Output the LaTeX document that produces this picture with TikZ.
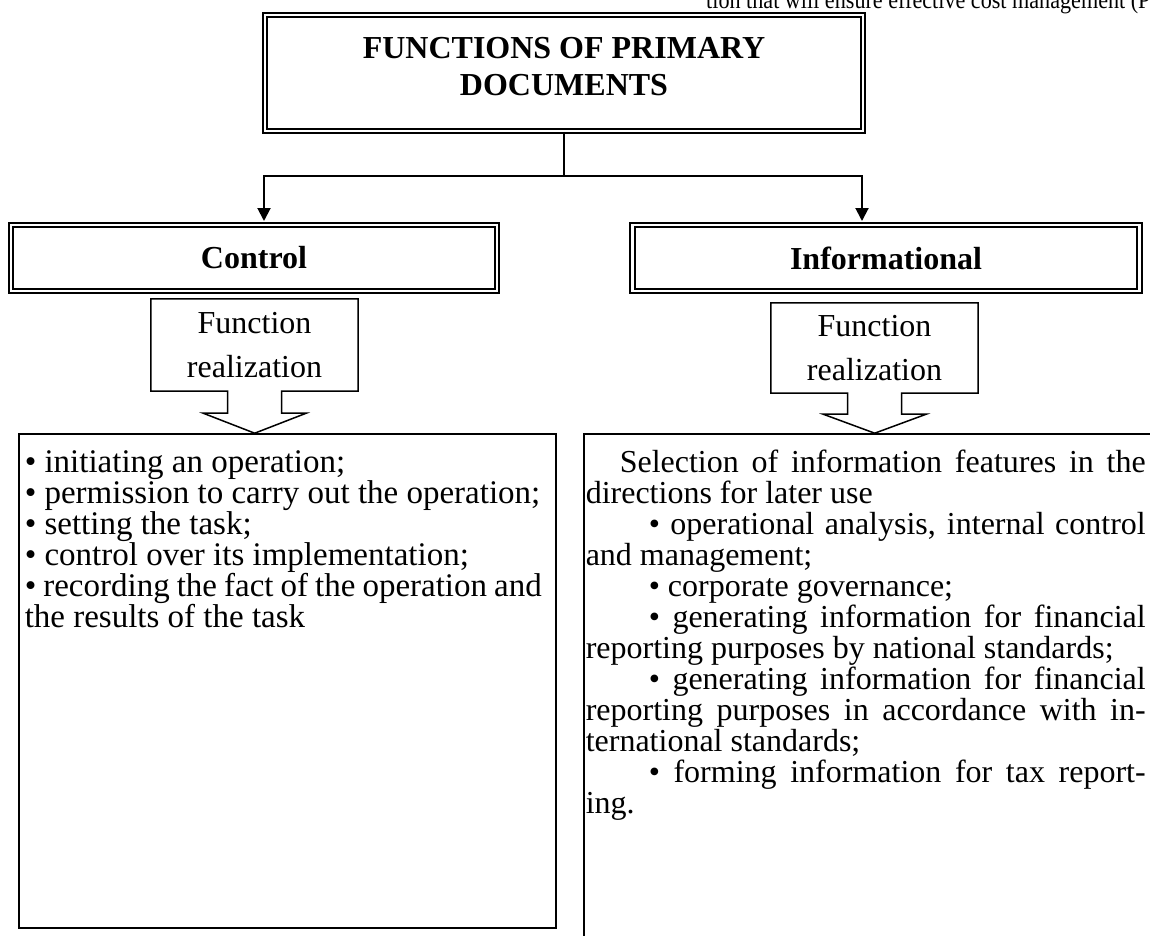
\documentclass[tikz,border=0pt]{standalone}
\usepackage{fontspec}
\setmainfont{Liberation Serif}
\usetikzlibrary{arrows.meta,positioning,calc}

\begin{document}
\begin{tikzpicture}
[
	x=1pt, y=-1pt,
	dbox/.style={rectangle,draw=black,double,line width=2pt,double distance=2.5pt,inner sep=0pt,align=center,font=\bfseries\fontsize{32}{37}\selectfont},
	realtext/.style={rectangle,inner sep=0pt,minimum width=207pt,align=center,font=\fontsize{32}{44}\selectfont},
	callout/.style={draw=black,line width=1.5pt,line join=miter},
	listbox/.style={rectangle,draw=black,line width=1.5pt,inner ysep=8pt,anchor=north west,font=\fontsize{32}{31}\selectfont},
	link/.style={line width=2pt},
	arr/.style={link,-{Triangle[width=13pt,length=13pt]},shorten >=3pt},
]
	\useasboundingbox (0,0) rectangle (1150,936);
	\clip (0,0) rectangle (1150,936);

	% cut line of the page above
	\node[anchor=base west,inner sep=0pt,font=\fontsize{25}{30}\selectfont] (prevline) at (706,9) {\scalebox{0.886}[1]{tion that will ensure effective cost management (P}};

	% title
	\node[dbox,minimum width=598pt,minimum height=116pt] (title) at (564,73) {};
	\node[inner sep=0pt,align=center,font=\bfseries\fontsize{32}{37}\selectfont] (titletext) at (564,67) {FUNCTIONS OF PRIMARY\\DOCUMENTS};

	% two functions
	\node[dbox,minimum width=486pt,minimum height=66pt] (ctrl) at (254,258) {Control};
	\node[dbox,minimum width=507pt,minimum height=66pt] (info) at (886,258) {Informational};

	\coordinate (fork) at (564,176);
	\draw[link] (title.south) -- (fork);
	\draw[arr] (fork) -| ([xshift=10pt]ctrl.north);
	\draw[arr] (fork) -| ([xshift=-24pt]info.north);

	% function realization callouts
	\node[realtext,minimum height=92pt] (realctrl) at (254.5,345) {Function\\realization};
	\draw[callout] (realctrl.north west) -- (realctrl.north east) -- (realctrl.south east)
		-- ++(-76.5,0) -- ++(0,22) -- ++(24.5,0) -- ++(-51.5,20) -- ++(-51.5,-20)
		-- ++(24.5,0) -- ++(0,-22) -- (realctrl.south west) -- cycle;

	\node[realtext,minimum height=90pt] (realinfo) at (874.5,348) {Function\\realization};
	\draw[callout] (realinfo.north west) -- (realinfo.north east) -- (realinfo.south east)
		-- ++(-76.5,0) -- ++(0,21) -- ++(24.5,0) -- ++(-51.5,19) -- ++(-51.5,-19)
		-- ++(24.5,0) -- ++(0,-21) -- (realinfo.south west) -- cycle;

	% lists
	\node[listbox,inner xsep=6pt,font=\fontsize{33}{31}\selectfont] (ctrllist) at (18,433) {\parbox[t][478pt][t]{525pt}{\setlength{\lineskiplimit}{-100pt}%
		\rule{0pt}{31pt}\textbullet{} initiating an operation;\\
		\textbullet{} permission to carry out the operation;\\
		\textbullet{} setting the task;\\
		\textbullet{} control over its implementation;\\
		\makebox[517pt][s]{\textbullet{} recording the fact of the operation and}\\
		the results of the task}};

	\node[listbox,inner xsep=2pt] (infolist) at (583,433) {\parbox[t][520pt][t]{575pt}{\setlength{\lineskiplimit}{-100pt}%
		\rule{0pt}{31pt}\makebox[560pt][s]{\hspace*{34pt}Selection of information features in the}\\
		directions for later use\\
		\makebox[560pt][s]{\hspace*{63pt}\textbullet{} operational analysis, internal control}\\
		and management;\\
		\hspace*{63pt}\textbullet{} corporate governance;\\
		\makebox[560pt][s]{\hspace*{63pt}\textbullet{} generating information for financial}\\
		reporting purposes by national standards;\\
		\makebox[560pt][s]{\hspace*{63pt}\textbullet{} generating information for financial}\\
		\makebox[560pt][s]{reporting purposes in accordance with in-}\\
		ternational standards;\\
		\makebox[560pt][s]{\hspace*{63pt}\textbullet{} forming information for tax report-}\\
		ing.}};
\end{tikzpicture}
\end{document}
